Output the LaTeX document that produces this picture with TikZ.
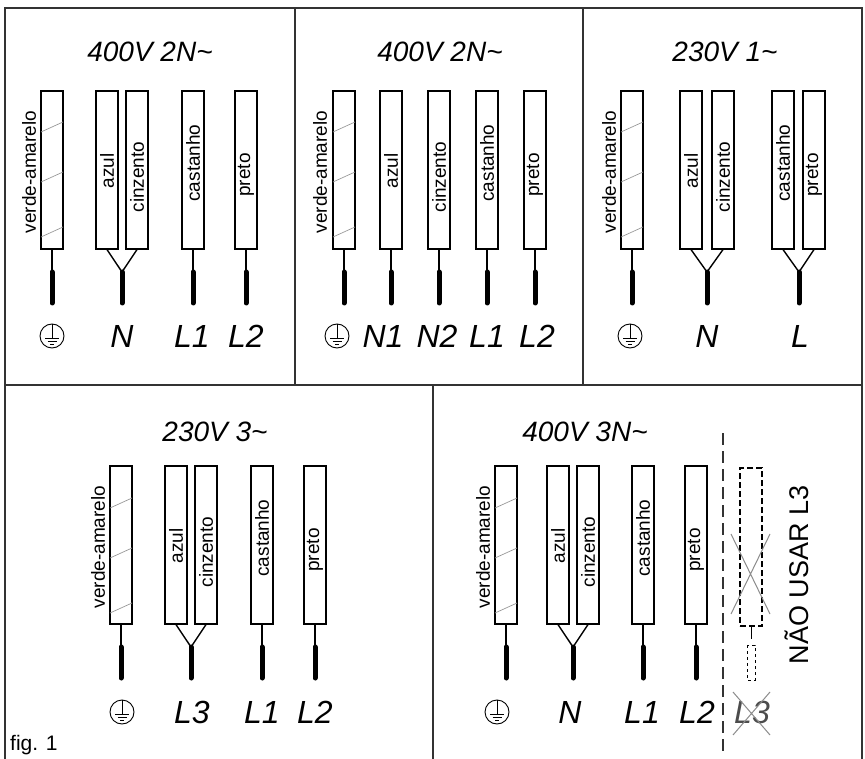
\documentclass[tikz,border=0pt]{standalone}
\usepackage{fontspec}
\setmainfont{Liberation Sans}
\begin{document}
\begin{tikzpicture}[x=1pt,y=-1pt,
  tube/.style={draw,line width=1.1pt,minimum width=22pt,minimum height=158pt,inner sep=0pt},
  dtube/.style={tube,dash pattern=on 6pt off 3pt},
  wtxt/.style={rotate=90,font=\fontsize{19}{19}\selectfont,inner sep=0pt},
  lbl/.style={font=\fontsize{32}{32}\selectfont\itshape,inner sep=0pt},
  ttl/.style={font=\fontsize{28}{28}\selectfont\itshape,inner sep=0pt},
  thin/.style={line width=1.4pt},
  thick/.style={line width=5pt,line cap=round},
  frame/.style={line width=1.3pt,draw=black!80},
  stripe/.style={draw=black!40,line width=0.7pt}]
\useasboundingbox[fill=white] (0,0) rectangle (865,759);
\newcommand\gnd[2]{%
  \node[draw,circle,minimum size=24pt,inner sep=0pt,line width=0.9pt] (#2) at #1 {};
  \draw[line width=0.9pt] (#2.north) -- ($(#2.center)+(0,2)$) (#2.center)++(-7,2) -- ++(14,0) (#2.center)++(-4.5,5) -- ++(9,0) (#2.center)++(-2,8) -- ++(4,0);}
\usetikzlibrary{calc}
% frames
\draw[frame] (5,8) rectangle (862,385);
\draw[frame] (295,8) -- (295,385) (583,8) -- (583,385);
\draw[frame] (5,385) -- (5,759) (433,385) -- (433,759) (862,385) -- (862,759);
% ---------- panel 1
\node[ttl] (t1) at (150,52) {400V 2N\char`~};
\node[tube] (a1) at (52,170) {};
\node[tube] (a2) at (107,170) {};
\node[tube] (a3) at (137,170) {};
\node[tube] (a4) at (193,170) {};
\node[tube] (a5) at (246,170) {};
\node[wtxt] at (29,172) {verde-amarelo};
\node[wtxt] at (107,171) {azul};
\node[wtxt] at (137,177) {cinzento};
\node[wtxt] at (193,163) {castanho};
\node[wtxt] at (246,175) {preto};
\coordinate (y1) at (122,272);
\draw[thin] (a1.south) -- ++(0,20) (a4.south) -- ++(0,20) (a5.south) -- ++(0,20);
\draw[thin] (a2.south) -- (y1) -- (a3.south);
\draw[thick] (52,272) -- (52,303) (122,272) -- (122,303) (193,272) -- (193,303) (246,272) -- (246,303);
\gnd{(52,336)}{g1}
\node[lbl] (n1) at (122,336) {N};
\node[lbl] (l11) at (192,336) {L1};
\node[lbl] (l21) at (246,336) {L2};
% ---------- panel 2
\node[ttl] (t2) at (440,52) {400V 2N\char`~};
\node[tube] (b1) at (344,170) {};
\node[tube] (b2) at (391,170) {};
\node[tube] (b3) at (439,170) {};
\node[tube] (b4) at (487,170) {};
\node[tube] (b5) at (535,170) {};
\node[wtxt] at (320,172) {verde-amarelo};
\node[wtxt] at (391,171) {azul};
\node[wtxt] at (439,177) {cinzento};
\node[wtxt] at (487,163) {castanho};
\node[wtxt] at (535,175) {preto};
\foreach \x in {344,391,439,487,535}{\draw[thin] (\x,249) -- (\x,272); \draw[thick] (\x,272) -- (\x,303);}
\gnd{(337,336)}{g2}
\node[lbl] (n12) at (383,336) {N1};
\node[lbl] (n22) at (437,336) {N2};
\node[lbl] (l12) at (487,336) {L1};
\node[lbl] (l22) at (537,336) {L2};
% ---------- panel 3
\node[ttl] (t3) at (725,52) {230V 1\char`~};
\node[tube] (c1) at (632,170) {};
\node[tube] (c2) at (691,170) {};
\node[tube] (c3) at (723,170) {};
\node[tube] (c4) at (783,170) {};
\node[tube] (c5) at (814,170) {};
\node[wtxt] at (609,172) {verde-amarelo};
\node[wtxt] at (691,171) {azul};
\node[wtxt] at (723,177) {cinzento};
\node[wtxt] at (783,163) {castanho};
\node[wtxt] at (814,175) {preto};
\coordinate (y3) at (707,272);
\coordinate (y4) at (799,272);
\draw[thin] (c1.south) -- ++(0,20);
\draw[thin] (c2.south) -- (y3) -- (c3.south);
\draw[thin] (c4.south) -- (y4) -- (c5.south);
\draw[thick] (632,272) -- (632,303) (707,272) -- (707,303) (799,272) -- (799,303);
\gnd{(630,336)}{g3}
\node[lbl] (n3) at (707,336) {N};
\node[lbl] (l3) at (800,336) {L};
% ---------- panel 4
\node[ttl] (t4) at (215,432) {230V 3\char`~};
\node[tube] (d1) at (121,545) {};
\node[tube] (d2) at (176,545) {};
\node[tube] (d3) at (206,545) {};
\node[tube] (d4) at (262,545) {};
\node[tube] (d5) at (315,545) {};
\node[wtxt] at (98,547) {verde-amarelo};
\node[wtxt] at (176,546) {azul};
\node[wtxt] at (206,552) {cinzento};
\node[wtxt] at (262,538) {castanho};
\node[wtxt] at (315,550) {preto};
\coordinate (y5) at (191,647);
\draw[thin] (d1.south) -- ++(0,23) (d4.south) -- ++(0,23) (d5.south) -- ++(0,23);
\draw[thin] (d2.south) -- (y5) -- (d3.south);
\draw[thick] (121,647) -- (121,678) (191,647) -- (191,678) (262,647) -- (262,678) (315,647) -- (315,678);
\gnd{(122,712)}{g4}
\node[lbl] (l34) at (192,712) {L3};
\node[lbl] (l14) at (262,712) {L1};
\node[lbl] (l24) at (315,712) {L2};
% ---------- panel 5
\node[ttl] (t5) at (585,432) {400V 3N\char`~};
\node[tube] (e1) at (506,545) {};
\node[tube] (e2) at (558,545) {};
\node[tube] (e3) at (588,545) {};
\node[tube] (e4) at (643,545) {};
\node[tube] (e5) at (696,545) {};
\node[dtube] (e6) at (751,547) {};
\node[wtxt] at (483,547) {verde-amarelo};
\node[wtxt] at (558,546) {azul};
\node[wtxt] at (588,552) {cinzento};
\node[wtxt] at (643,538) {castanho};
\node[wtxt] at (696,550) {preto};
\coordinate (y6) at (573,647);
\draw[thin] (e1.south) -- ++(0,23) (e4.south) -- ++(0,23) (e5.south) -- ++(0,23);
\draw[thin] (e2.south) -- (y6) -- (e3.south);
\draw[thick] (506,647) -- (506,678) (573,647) -- (573,678) (643,647) -- (643,678) (696,647) -- (696,678);
\draw[line width=1pt] (e6.south) -- ++(0,12);
\draw[line width=0.9pt,dashed] (747,645) rectangle (755,680);
\draw[black!45,line width=1pt] (731,534) -- (770,614) (770,534) -- (731,614);
\draw[line width=1.2pt,dash pattern=on 12pt off 6pt,black!80] (723,433) -- (723,755);
\gnd{(497,712)}{g5}
\node[lbl] (n5) at (570,712) {N};
\node[lbl] (l15) at (642,712) {L1};
\node[lbl] (l25) at (697,712) {L2};
\node[lbl,text=black!70] (l35) at (752,712) {L3};
\draw[black!45,line width=1pt] (733,692) -- (770,735) (770,692) -- (733,735);
\node[rotate=90,font=\fontsize{27}{27}\selectfont,inner sep=0pt] (nu) at (797,575) {NÃO USAR L3};
\node[font=\fontsize{21}{21}\selectfont,anchor=west,inner sep=0pt] (fig) at (10,745) {fig. 1};
% stripes on verde-amarelo tubes
\foreach \x/\y in {52/90,344/90,632/90,121/466,506/466}{
  \foreach \d in {35,85,140}{\draw[stripe] (\x-11,\y+\d+7) -- (\x+11,\y+\d-3);}}
\end{tikzpicture}
\end{document}
